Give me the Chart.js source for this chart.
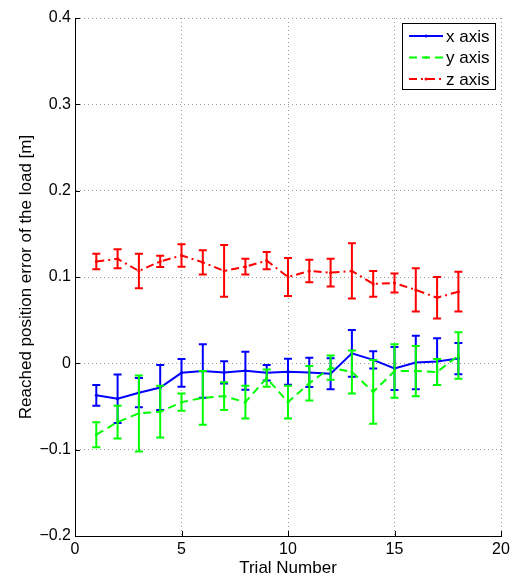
<!DOCTYPE html>
<html>
<head>
<meta charset="utf-8">
<script src="https://cdn.jsdelivr.net/npm/chart.js@4.4.1/dist/chart.umd.min.js"></script>
<style>
  body { margin: 0; background: #fff; }
  canvas { display: block; }
</style>
</head>
<body>
<canvas id="errChart" width="514" height="583"></canvas>
<script>
// trial numbers on the x axis
const trials = [1, 2, 3, 4, 5, 6, 7, 8, 9, 10, 11, 12, 13, 14, 15, 16, 17, 18];

// mean error per axis
const xMean = [-0.037, -0.041, -0.034, -0.028, -0.011, -0.009, -0.0105, -0.0085, -0.011, -0.0097,
               -0.0105, -0.012, 0.0116, 0.004, -0.006, 0.001, 0.002, 0.0055];
const yMean = [-0.0826, -0.068, -0.058, -0.056, -0.045, -0.040, -0.038, -0.045, -0.017, -0.045,
               -0.023, -0.005, -0.010, -0.033, -0.009, -0.009, -0.010, 0.009];
const zMean = [0.118, 0.121, 0.107, 0.118, 0.125, 0.117, 0.107, 0.112, 0.119, 0.100,
               0.107, 0.105, 0.107, 0.092, 0.093, 0.085, 0.076, 0.083];

// half length of the error bars
const xErr = [0.012, 0.028, 0.017, 0.026, 0.016, 0.031, 0.013, 0.022, 0.009, 0.015,
              0.017, 0.018, 0.027, 0.010, 0.025, 0.031, 0.027, 0.018];
const yErr = [0.0145, 0.019, 0.044, 0.030, 0.010, 0.031, 0.016, 0.019, 0.010, 0.019,
              0.020, 0.014, 0.025, 0.037, 0.031, 0.029, 0.015, 0.027];
const zErr = [0.009, 0.011, 0.020, 0.0065, 0.013, 0.014, 0.030, 0.009, 0.010, 0.022,
              0.013, 0.016, 0.032, 0.015, 0.011, 0.025, 0.024, 0.023];

const seriesNames = ['x axis', 'y axis', 'z axis'];
const xTickLabels = ['0', '5', '10', '15', '20'];
const yTickLabels = ['\u22120.2', '\u22120.1', '0', '0.1', '0.2', '0.3', '0.4'];

Chart.defaults.font.family = "'Liberation Sans', Arial, Helvetica, sans-serif";
Chart.defaults.color = '#000';

function toPoints(vals) {
    return trials.map(function (t, i) { return { x: t, y: vals[i] }; });
}

// error bars, drawn just before each line so the line sits on top
const errorBars = {
    id: 'errorBars',
    beforeDatasetDraw: function (chart, args) {
        const ds = chart.data.datasets[args.index];
        if (!ds.errors) return;
        const yScale = chart.scales.y;
        const ctx = chart.ctx;
        ctx.save();
        ctx.strokeStyle = ds.borderColor;
        ctx.lineWidth = 2;
        ctx.setLineDash([]);
        args.meta.data.forEach(function (pt, i) {
            const v = ds.data[i].y, e = ds.errors[i];
            const top = yScale.getPixelForValue(v + e);
            const bot = yScale.getPixelForValue(v - e);
            ctx.beginPath();
            ctx.moveTo(pt.x, top); ctx.lineTo(pt.x, bot);
            ctx.moveTo(pt.x - 4, top); ctx.lineTo(pt.x + 4, top);
            ctx.moveTo(pt.x - 4, bot); ctx.lineTo(pt.x + 4, bot);
            ctx.stroke();
        });
        ctx.restore();
    }
};

// matlab style inward ticks + boxed legend inside the plot
const axesExtras = {
    id: 'axesExtras',
    afterDraw: function (chart) {
        const ctx = chart.ctx;
        const xs = chart.scales.x, ys = chart.scales.y;
        const area = chart.chartArea;
        ctx.save();
        ctx.strokeStyle = '#000';
        ctx.lineWidth = 1;
        ys.ticks.forEach(function (t) {
            const p = Math.round(ys.getPixelForValue(t.value)) + 0.5;
            ctx.beginPath(); ctx.moveTo(area.left, p); ctx.lineTo(area.left + 5, p); ctx.stroke();
        });
        xs.ticks.forEach(function (t) {
            const p = Math.round(xs.getPixelForValue(t.value)) + 0.5;
            ctx.beginPath(); ctx.moveTo(p, area.bottom); ctx.lineTo(p, area.bottom - 5); ctx.stroke();
        });

        // legend
        const bx = 402, by = 23, bw = 93, bh = 66;
        ctx.fillStyle = '#fff';
        ctx.fillRect(bx, by, bw, bh);
        ctx.strokeRect(bx + 0.5, by + 0.5, bw, bh);
        ctx.font = "17px 'Liberation Sans', Arial, sans-serif";
        ctx.textBaseline = 'middle';
        chart.data.datasets.forEach(function (ds, i) {
            const cy = 36 + i * 21.5;
            ctx.strokeStyle = ds.borderColor;
            ctx.lineWidth = 2;
            ctx.setLineDash(ds.borderDash || []);
            ctx.beginPath(); ctx.moveTo(409, cy); ctx.lineTo(443, cy); ctx.stroke();
            ctx.setLineDash([]);
            ctx.fillStyle = ds.borderColor;
            ctx.beginPath(); ctx.arc(426, cy, 1.5, 0, Math.PI * 2); ctx.fill();
            ctx.fillStyle = '#000';
            ctx.fillText(ds.label, 446, cy + 1);
        });
        ctx.restore();
    }
};

const chartData = {
    datasets: [
        {
            label: seriesNames[0],
            data: toPoints(xMean),
            errors: xErr,
            borderColor: '#0000ff',
            backgroundColor: '#0000ff',
            borderWidth: 2,
            pointRadius: 1.5,
            pointBorderWidth: 0,
            order: 3
        },
        {
            label: seriesNames[1],
            data: toPoints(yMean),
            errors: yErr,
            borderColor: '#00ff00',
            backgroundColor: '#00ff00',
            borderWidth: 2,
            borderDash: [8, 5],
            pointRadius: 1.5,
            pointBorderWidth: 0,
            order: 2
        },
        {
            label: seriesNames[2],
            data: toPoints(zMean),
            errors: zErr,
            borderColor: '#ff0000',
            backgroundColor: '#ff0000',
            borderWidth: 2,
            borderDash: [8, 4, 2, 4],
            pointRadius: 1.5,
            pointBorderWidth: 0,
            order: 1
        }
    ]
};

const gridDots = { color: '#999', lineWidth: 1, drawTicks: false };

new Chart(document.getElementById('errChart').getContext('2d'), {
    type: 'line',
    data: chartData,
    plugins: [errorBars, axesExtras],
    options: {
        responsive: false,
        animation: false,
        layout: { padding: { top: 18, right: 13, left: 0, bottom: 0 } },
        plugins: {
            legend: { display: false },
            tooltip: { enabled: false }
        },
        scales: {
            x: {
                type: 'linear',
                min: 0,
                max: 20,
                ticks: {
                    stepSize: 5,
                    padding: 4,
                    font: { size: 16 },
                    maxRotation: 0,
                    callback: function (v, i) { return xTickLabels[i]; }
                },
                grid: gridDots,
                border: { display: true, color: '#000', width: 1, dash: [1, 3] },
                title: { display: true, text: 'Trial Number', font: { size: 17 }, padding: { top: 0, bottom: 4 } },
                afterFit: function (scale) { scale.height = 47; }
            },
            y: {
                type: 'linear',
                min: -0.2,
                max: 0.4,
                ticks: {
                    stepSize: 0.1,
                    padding: 4,
                    font: { size: 16 },
                    callback: function (v, i) { return yTickLabels[i]; }
                },
                grid: gridDots,
                border: { display: true, color: '#000', width: 1, dash: [1, 3] },
                title: { display: true, text: 'Reached position error of the load [m]', font: { size: 17 }, padding: { top: 16, bottom: 0 } },
                afterFit: function (scale) { scale.width = 75; }
            }
        }
    }
});
</script>
</body>
</html>
